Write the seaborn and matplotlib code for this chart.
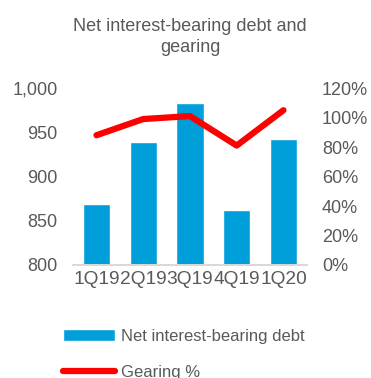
import numpy as np
import pandas as pd
import matplotlib
matplotlib.use("Agg")
import matplotlib.pyplot as plt
import seaborn as sns
from matplotlib.ticker import FuncFormatter, PercentFormatter

quarters = ["1Q19", "2Q19", "3Q19", "4Q19", "1Q20"]
net_debt = [869, 939, 983, 862, 942]
gearing_pct = [88, 99, 101, 81, 105]
debt_ticks = [800, 850, 900, 950, 1000]
gearing_ticks = [0, 20, 40, 60, 80, 100, 120]

sns.set_theme(style="white")
plt.rcParams["font.family"] = ["Liberation Sans", "DejaVu Sans"]

BLUE = "#009FDA"
RED = "#FF0000"
GREY = "#595959"

df = pd.DataFrame({"quarter": quarters, "debt": net_debt,
                   "gearing": gearing_pct, "pos": np.arange(len(quarters))})

fig = plt.figure(figsize=(3.71, 3.78), dpi=100)
ax = fig.add_axes([0.197, 0.299, 0.630, 0.468])

sns.barplot(data=df, x="quarter", y="debt", color=BLUE, width=0.58,
            saturation=1, ax=ax, label="Net interest-bearing debt")
ax.set_ylim(800, 1000)
ax.set_xlim(-0.5, len(quarters) - 0.5)
ax.set_yticks(debt_ticks)
ax.yaxis.set_major_formatter(FuncFormatter(lambda v, _: f"{v:,.0f}"))
ax.set_xlabel("")
ax.set_ylabel("")

ax2 = ax.twinx()
sns.lineplot(data=df, x="pos", y="gearing", color=RED, linewidth=4.5,
             ax=ax2, label="Gearing %", legend=False)
ax2.set_ylim(0, 120)
ax2.set_yticks(gearing_ticks)
ax2.yaxis.set_major_formatter(PercentFormatter(decimals=0))
ax2.set_ylabel("")
ax2.set_xlim(-0.5, len(quarters) - 0.5)

for a in (ax, ax2):
    for side in ("top", "left", "right"):
        a.spines[side].set_visible(False)
    a.spines["bottom"].set_color("#D9D9D9")
    a.tick_params(axis="both", length=0, labelsize=13, labelcolor=GREY)
ax.tick_params(axis="y", pad=11)
ax2.tick_params(axis="y", pad=11)
ax.tick_params(axis="x", pad=4, labelsize=13.8)
if ax.get_legend() is not None:
    ax.get_legend().remove()

ax.set_title("Net interest-bearing debt and\ngearing", fontsize=13,
             color=GREY, pad=26, linespacing=1.3)

h1, l1 = ax.get_legend_handles_labels()
h2, l2 = ax2.get_legend_handles_labels()
fig.legend(h1 + h2, l1 + l2, loc="upper left", bbox_to_anchor=(0.152, 0.148),
           frameon=False, fontsize=12, labelcolor=GREY, handlelength=3.1,
           handletextpad=0.4, labelspacing=1.25, borderaxespad=0)

fig.savefig("out.png", dpi=100)
